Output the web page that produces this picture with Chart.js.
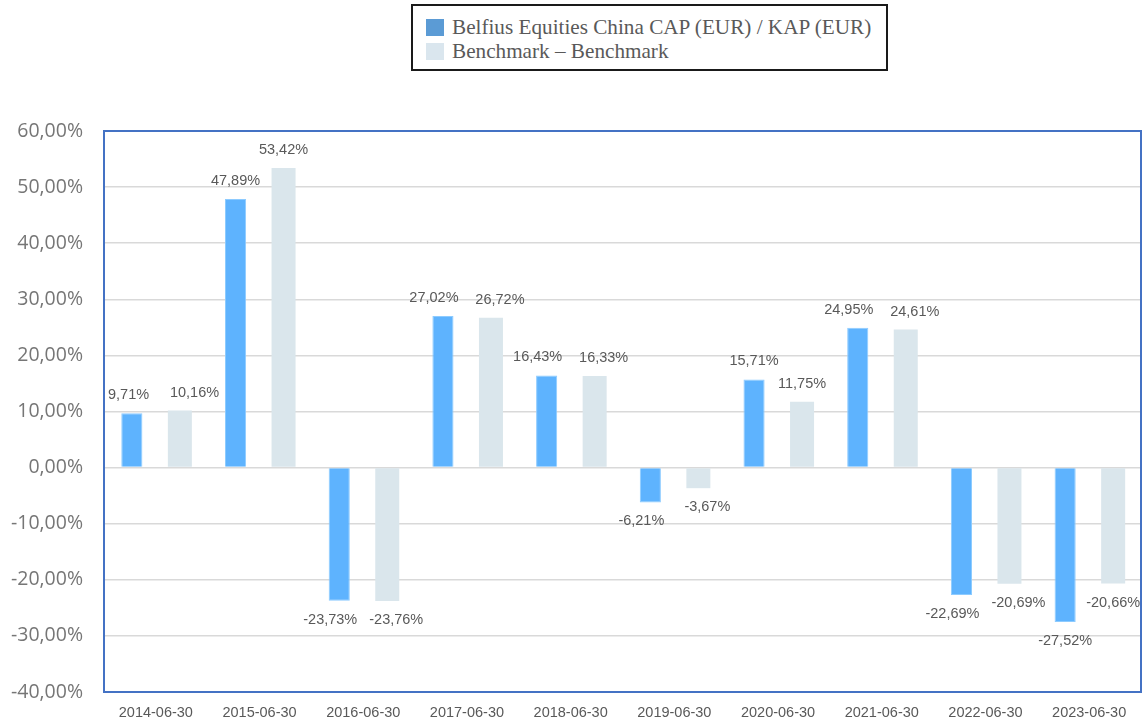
<!DOCTYPE html>
<html>
<head>
<meta charset="utf-8">
<script src="https://cdn.jsdelivr.net/npm/chart.js@4.4.1/dist/chart.umd.min.js"></script>
<style>
  html, body { margin: 0; padding: 0; background: #fff; }
  #wrap { position: relative; width: 1144px; height: 722px; }
  #legend {
    position: absolute; left: 411px; top: 4px; width: 473px; height: 63px;
    border: 2px solid #1a1a1a; background: #fff;
    font-family: "Liberation Serif", "Times New Roman", serif; font-size: 21.2px; color: #595959;
  }
  .li { position: absolute; left: 13px; height: 22px; line-height: 22px; white-space: nowrap; }
  .sw { display: inline-block; width: 18px; height: 17px; vertical-align: -2px; margin-right: 8px; }
</style>
</head>
<body>
<div id="wrap">
  <canvas id="c" width="1144" height="722"></canvas>
  <div id="legend">
    <div class="li" style="top:10px"><span class="sw" style="background:#5B9BD5"></span>Belfius Equities China CAP (EUR) / KAP (EUR)</div>
    <div class="li" style="top:34px"><span class="sw" style="background:#DAE6EE"></span>Benchmark – Benchmark</div>
  </div>
</div>
<script>
const categories = ["2014-06-30","2015-06-30","2016-06-30","2017-06-30","2018-06-30","2019-06-30","2020-06-30","2021-06-30","2022-06-30","2023-06-30"];
const fundValues = [9.71, 47.89, -23.73, 27.02, 16.43, -6.21, 15.71, 24.95, -22.69, -27.52];
const benchValues = [10.16, 53.42, -23.76, 26.72, 16.33, -3.67, 11.75, 24.61, -20.69, -20.66];
const fundLabel = "Belfius Equities China CAP (EUR) / KAP (EUR)";
const benchLabel = "Benchmark – Benchmark";

function pct(v) { return v.toFixed(2).replace('.', ',') + '%'; }

const frame = {
  id: 'frame',
  afterDraw(chart) {
    const a = chart.chartArea, ctx = chart.ctx;
    ctx.save();
    ctx.strokeStyle = '#4472C4';
    ctx.lineWidth = 2;
    ctx.strokeRect(a.left, a.top, a.right - a.left, a.bottom - a.top);
    ctx.restore();
  }
};

const labels = {
  id: 'labels',
  afterDatasetsDraw(chart) {
    const ctx = chart.ctx;
    ctx.save();
    ctx.font = '14.5px "Liberation Sans", Arial, sans-serif';
    ctx.fillStyle = '#595959';
    ctx.textAlign = 'center';
    ctx.textBaseline = 'middle';
    const m0 = chart.getDatasetMeta(0).data, m1 = chart.getDatasetMeta(1).data;
    const d0 = chart.data.datasets[0].data, d1 = chart.data.datasets[1].data;
    const left = chart.chartArea.left, right = chart.chartArea.right;
    for (let i = 0; i < m0.length; i++) {
      const p = [[m0[i], d0[i]], [m1[i], d1[i]]].map(([bar, v]) => ({
        v, x: bar.x, y: v >= 0 ? bar.y - 18 : bar.y + 19
      }));
      // simple collision avoidance between the two labels of a category
      if (Math.abs(p[0].y - p[1].y) < 18) {
        const need = 66 - (p[1].x - p[0].x);
        if (need > 0) {
          let l = need / 2, r = need / 2;
          const w1 = ctx.measureText(pct(p[1].v)).width;
          const w0 = ctx.measureText(pct(p[0].v)).width;
          const roomR = Math.max(right + 4 - (p[1].x + w1 / 2), 0);
          const roomL = Math.max(p[0].x - w0 / 2 - (left + 4), 0);
          if (r > roomR) { l += r - roomR; r = roomR; }
          if (l > roomL) { r += l - roomL; l = roomL; }
          p[0].x -= l; p[1].x += r;
        }
      }
      p.forEach(q => ctx.fillText(pct(q.v), q.x, q.y));
    }
    ctx.restore();
  }
};

new Chart(document.getElementById('c'), {
  type: 'bar',
  data: {
    labels: categories,
    datasets: [
      { label: fundLabel, data: fundValues, backgroundColor: '#5EB3FE', borderColor: '#8DCBFF', borderWidth: 1, barPercentage: 0.44, categoryPercentage: 0.926 },
      { label: benchLabel, data: benchValues, backgroundColor: '#DAE6EC', borderWidth: 0, barPercentage: 0.5, categoryPercentage: 0.926 }
    ]
  },
  options: {
    responsive: false,
    animation: false,
    layout: { padding: { top: 131, right: 3, left: 0, bottom: 0 } },
    plugins: { legend: { display: false }, tooltip: { enabled: false } },
    scales: {
      x: {
        grid: { display: false },
        border: { display: false },
        ticks: { color: '#595959', font: { family: '"Liberation Sans", Arial, sans-serif', size: 14.5 }, padding: 4, maxRotation: 0 },
        afterFit(s) { s.height = 30; }
      },
      y: {
        min: -40, max: 60,
        grid: { color: '#D9D9D9', lineWidth: 1.5, drawTicks: false },
        border: { display: false },
        ticks: { stepSize: 10, color: '#767676', padding: 21, font: { family: '"Open Sans", sans-serif', size: 19.5 }, callback: v => pct(v) },
        afterFit(s) { s.width = 104; s.paddingTop = 0; s.paddingBottom = 0; }
      }
    }
  },
  plugins: [frame, labels]
});
</script>
</body>
</html>
